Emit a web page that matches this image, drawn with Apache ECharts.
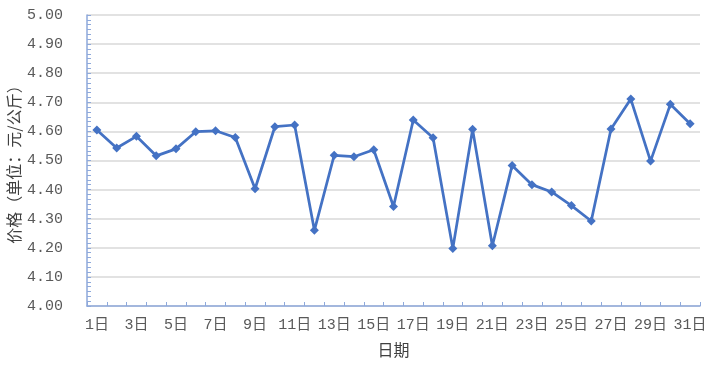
<!DOCTYPE html>
<html>
<head>
<meta charset="utf-8">
<script src="https://cdn.jsdelivr.net/npm/echarts@6/dist/echarts.min.js"></script>
<style>html,body{margin:0;padding:0;background:#fff}#c{width:714px;height:366px}</style>
</head>
<body>
<div id="c"></div>
<script>
const days = ["1日","2日","3日","4日","5日","6日","7日","8日","9日","10日","11日","12日","13日","14日","15日","16日","17日","18日","19日","20日","21日","22日","23日","24日","25日","26日","27日","28日","29日","30日","31日"];
const prices = [4.605,4.543,4.583,4.516,4.540,4.599,4.602,4.579,4.403,4.616,4.622,4.260,4.518,4.513,4.537,4.342,4.639,4.578,4.198,4.607,4.207,4.483,4.417,4.392,4.345,4.292,4.608,4.711,4.498,4.693,4.626];
const yMin = 4.0, yMax = 5.0, yStep = 0.1;
const xName = "日期";
const yName = "价格（单位：元/公斤）";

const font = "'Liberation Mono', 'Noto Sans CJK SC', monospace";
const axisColor = "#8ea9db";
const chart = echarts.init(document.getElementById('c'), null, {renderer:'canvas'});
chart.setOption({
  animation:false,
  backgroundColor:'#fff',
  grid:{left:87, right:14, top:15, bottom:60, containLabel:false, outerBoundsMode:'none'},
  xAxis:{
    type:'category', data:days, boundaryGap:true,
    name:xName, nameLocation:'middle', nameGap:36, nameMoveOverlap:false,
    nameTextStyle:{fontFamily:"'Noto Sans CJK SC'", fontSize:16, color:'#404040'},
    axisLine:{lineStyle:{color:axisColor, width:1.5}},
    axisTick:{show:true, inside:true, length:4, interval:0, lineStyle:{color:axisColor}},
    axisLabel:{interval:1, margin:12, fontFamily:font, fontSize:15, color:'#595959'},
    splitLine:{show:false}
  },
  yAxis:{
    type:'value', min:yMin, max:yMax, interval:yStep,
    name:yName, nameLocation:'middle', nameGap:65, nameRotate:90, nameMoveOverlap:false,
    nameTextStyle:{fontFamily:"'Noto Sans CJK SC'", fontSize:16, color:'#404040'},
    axisLine:{show:true, lineStyle:{color:axisColor, width:1.5}},
    axisTick:{show:true, inside:true, length:4, lineStyle:{color:axisColor}},
    minorTick:{show:true, splitNumber:6, length:4, lineStyle:{color:axisColor}},
    axisLabel:{margin:24, fontFamily:font, fontSize:15, color:'#595959', formatter:v=>v.toFixed(2)},
    splitLine:{show:true, lineStyle:{color:'#d9d9d9', width:1.5}}
  },
  series:[{
    type:'line', data:prices,
    symbol:'diamond', symbolSize:9,
    lineStyle:{color:'#4472c4', width:2.75},
    itemStyle:{color:'#4472c4'}
  }]
});
</script>
</body>
</html>
